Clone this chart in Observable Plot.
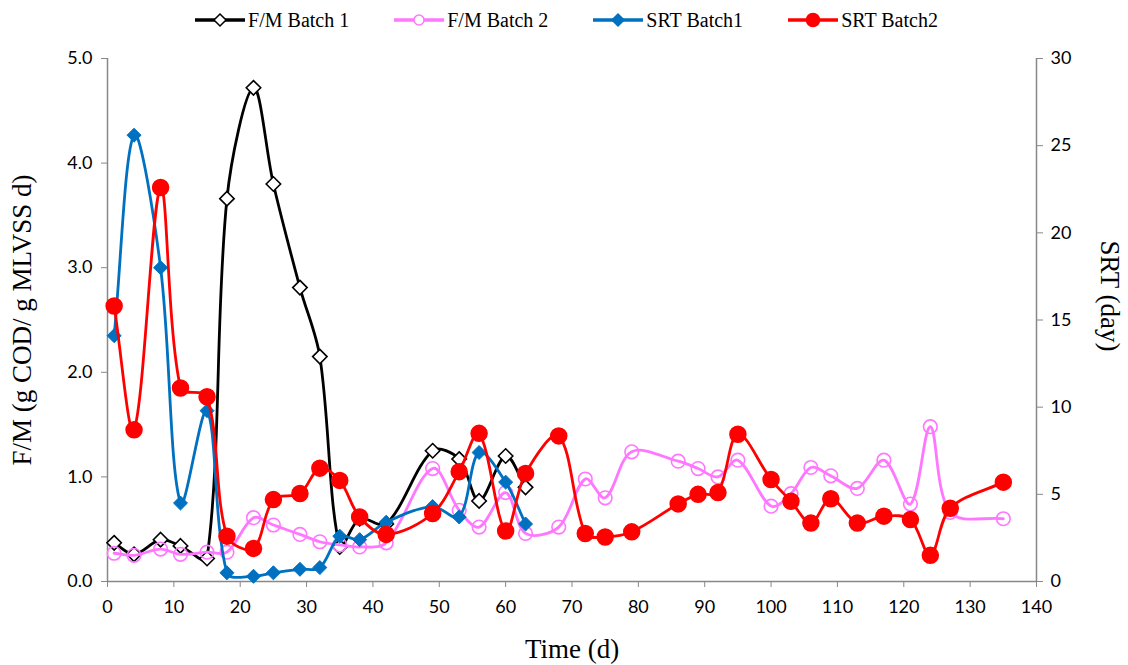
<!DOCTYPE html>
<html>
<head>
<meta charset="utf-8">
<script src="https://cdn.jsdelivr.net/npm/d3@7"></script>
<script src="https://cdn.jsdelivr.net/npm/@observablehq/plot@0.6"></script>
<style>
  body { margin: 0; background: #fff; }
  #legend { height: 40px; display: flex; justify-content: center; align-items: center; gap: 44px;
            font-family: "Liberation Serif", serif; font-size: 20px; color: #000; padding-left: 4px; }
  .item { display: flex; align-items: center; gap: 2px; }
  #chart svg { display: block; }
</style>
</head>
<body>
<div id="legend"></div>
<div id="chart"></div>
<script>
// ---- Data ----
const days1 = [1, 4, 8, 11, 15, 18, 22, 25, 29, 32, 35, 38, 42, 49, 53, 56, 60, 63];
const fmBatch1 = [0.37, 0.26, 0.40, 0.34, 0.22, 3.66, 4.72, 3.80, 2.81, 2.15, 0.33, 0.60, 0.55, 1.25, 1.17, 0.77, 1.20, 0.90];
const srtBatch1 = [14.1, 25.6, 18.0, 4.5, 9.8, 0.5, 0.3, 0.5, 0.7, 0.8, 2.6, 2.4, 3.4, 4.3, 3.7, 7.4, 5.7, 3.3];

const days2 = [1, 4, 8, 11, 15, 18, 22, 25, 29, 32, 35, 38, 42, 49, 53, 56, 60, 63, 68, 72, 75, 79, 86, 89, 92, 95, 100, 103, 106, 109, 113, 117, 121, 124, 127, 135];
const fmBatch2 = [0.27, 0.25, 0.31, 0.26, 0.28, 0.28, 0.61, 0.54, 0.45, 0.38, 0.35, 0.33, 0.37, 1.08, 0.68, 0.52, 0.85, 0.46, 0.52, 0.98, 0.80, 1.24, 1.15, 1.08, 1.00, 1.16, 0.72, 0.84, 1.09, 1.01, 0.89, 1.16, 0.74, 1.48, 0.66, 0.60];
const srtBatch2 = [15.8, 8.7, 22.6, 11.1, 10.6, 2.6, 1.9, 4.7, 5.05, 6.5, 5.8, 3.7, 2.7, 3.9, 6.3, 8.5, 2.9, 6.2, 8.35, 2.75, 2.55, 2.85, 4.45, 5.0, 5.1, 8.45, 5.85, 4.6, 3.35, 4.75, 3.35, 3.75, 3.55, 1.5, 4.2, 5.7];

const xTicks = [0, 10, 20, 30, 40, 50, 60, 70, 80, 90, 100, 110, 120, 130, 140];
const fmTicks = [0, 1, 2, 3, 4, 5];
const srtTicks = [0, 5, 10, 15, 20, 25, 30];

const seriesNames = ["F/M Batch 1", "F/M Batch 2", "SRT Batch1", "SRT Batch2"];
const colors = ["#000000", "#FF77FF", "#0070C0", "#FF0000"];

// ---- Scales ----
const FM_MAX = 5, SRT_MAX = 30, k = FM_MAX / SRT_MAX;

const fm1 = days1.map((d, i) => ({day: d, v: fmBatch1[i]}));
const srt1 = days1.map((d, i) => ({day: d, v: srtBatch1[i]}));
const fm2 = days2.map((d, i) => ({day: d, v: fmBatch2[i]}));
const srt2 = days2.map((d, i) => ({day: d, v: srtBatch2[i]}));

// Spreadsheet-style smoothed line: Bezier segments whose tangents are
// scaled by neighbouring chord lengths (limits overshoot next to long jumps).
function SmoothCurve(context) { this._context = context; }
SmoothCurve.prototype = {
  areaStart() { this._line = 0; },
  areaEnd() { this._line = NaN; },
  lineStart() { this._pts = []; },
  point(x, y) { this._pts.push([+x, +y]); },
  lineEnd() {
    const p = this._pts, n = p.length, c = this._context;
    if (!n) return;
    c.moveTo(p[0][0], p[0][1]);
    if (n === 2) { c.lineTo(p[1][0], p[1][1]); return; }
    const dist = (a, b) => Math.hypot(b[0] - a[0], b[1] - a[1]);
    for (let i = 0; i < n - 1; i++) {
      const p0 = p[i - 1] || p[i], p1 = p[i], p2 = p[i + 1], p3 = p[i + 2] || p[i + 1];
      const d01 = dist(p0, p1), d12 = dist(p1, p2), d23 = dist(p2, p3);
      const f1 = d01 + d12 > 0 ? d12 / (d01 + d12) : 0;
      const f2 = d12 + d23 > 0 ? d12 / (d12 + d23) : 0;
      const c1x = p1[0] + (p2[0] - p0[0]) * f1 / 3, c1y = p1[1] + (p2[1] - p0[1]) * f1 / 3;
      const c2x = p2[0] - (p3[0] - p1[0]) * f2 / 3, c2y = p2[1] - (p3[1] - p1[1]) * f2 / 3;
      c.bezierCurveTo(c1x, c1y, c2x, c2y, p2[0], p2[1]);
    }
  }
};
const curve = {curve: ctx => new SmoothCurve(ctx)};
const serif = "Liberation Serif, Times New Roman, serif";
const tickFont = 18;

const chart = Plot.plot({
  width: 1128,
  height: 625,
  marginLeft: 107,
  marginRight: 92,
  marginTop: 18,
  marginBottom: 84,
  x: {domain: [0, 140]},
  y: {domain: [0, FM_MAX]},
  style: {fontFamily: "Lato, sans-serif", fontSize: "18px", color: "#000", background: "#fff"},
  marks: [
    Plot.axisX({ticks: xTicks, tickFormat: d => String(d), tickSize: 6, tickPadding: 13, stroke: "#888", fill: "#000", label: null, fontSize: tickFont}),
    Plot.axisY({ticks: fmTicks, tickFormat: d => d.toFixed(1), tickSize: 6, tickPadding: 9, stroke: "#888", fill: "#000", label: null, fontSize: tickFont}),
    Plot.axisY({anchor: "right", ticks: srtTicks.map(s => s * k), tickFormat: d => String(Math.round(d / k)), tickSize: 6, tickPadding: 8, stroke: "#888", fill: "#000", label: null, fontSize: tickFont}),
    Plot.ruleY([0], {stroke: "#888", strokeWidth: 1.5}),
    Plot.ruleX([0, 140], {stroke: "#888", strokeWidth: 1.5}),

    // F/M Batch 1
    Plot.line(fm1, {x: "day", y: "v", stroke: colors[0], strokeWidth: 2.8, ...curve}),
    Plot.dot(fm1, {x: "day", y: "v", symbol: "diamond2", r: 6.5, stroke: colors[0], fill: "white", strokeWidth: 1.6}),

    // F/M Batch 2
    Plot.line(fm2, {x: "day", y: "v", stroke: colors[1], strokeWidth: 2.8, ...curve}),
    Plot.dot(fm2, {x: "day", y: "v", symbol: "circle", r: 6.8, stroke: colors[1], fill: "none", strokeWidth: 1.6}),

    // SRT Batch 1
    Plot.line(srt1, {x: "day", y: d => d.v * k, stroke: colors[2], strokeWidth: 2.8, ...curve}),
    Plot.dot(srt1, {x: "day", y: d => d.v * k, symbol: "diamond2", r: 6.3, fill: colors[2], stroke: colors[2], strokeWidth: 1}),

    // SRT Batch 2
    Plot.line(srt2, {x: "day", y: d => d.v * k, stroke: colors[3], strokeWidth: 2.8, ...curve}),
    Plot.dot(srt2, {x: "day", y: d => d.v * k, symbol: "circle", r: 8, fill: colors[3], stroke: colors[3]}),

    // Axis titles
    Plot.text(["Time (d)"], {text: d => d, frameAnchor: "bottom", textAnchor: "middle", dy: 76, fontFamily: serif, fontSize: 27, fill: "#000"}),
    Plot.text(["F/M (g COD/ g MLVSS d)"], {text: d => d, frameAnchor: "left", textAnchor: "middle", dx: -85, rotate: -90, fontFamily: serif, fontSize: 27, fill: "#000"}),
    Plot.text(["SRT (day)"], {text: d => d, frameAnchor: "right", textAnchor: "middle", dx: 73, dy: -24, rotate: 90, fontFamily: serif, fontSize: 27, fill: "#000"})
  ]
});
document.getElementById("chart").appendChild(chart);

// ---- Legend ----
const legend = d3.select("#legend");
const symbols = ["diamondOpen", "circleOpen", "diamondFilled", "circleFilled"];
seriesNames.forEach((name, i) => {
  const item = legend.append("div").attr("class", "item");
  const svg = item.append("svg").attr("width", 52).attr("height", 18);
  svg.append("line").attr("x1", 1).attr("x2", 51).attr("y1", 9).attr("y2", 9)
    .attr("stroke", colors[i]).attr("stroke-width", 3.5);
  const s = symbols[i];
  if (s.startsWith("diamond")) {
    svg.append("path").attr("d", "M26,3 L32,9 L26,15 L20,9 Z")
      .attr("fill", s === "diamondOpen" ? "white" : colors[i])
      .attr("stroke", colors[i]).attr("stroke-width", 1.5);
  } else {
    svg.append("circle").attr("cx", 26).attr("cy", 9).attr("r", s === "circleOpen" ? 5 : 6.5)
      .attr("fill", s === "circleOpen" ? "white" : colors[i])
      .attr("stroke", colors[i]).attr("stroke-width", 1.5);
  }
  item.append("span").text(name);
});
</script>
</body>
</html>
